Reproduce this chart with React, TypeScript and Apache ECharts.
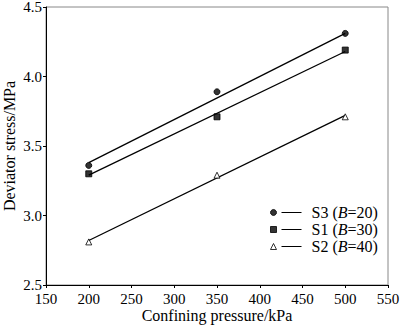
import React, { useEffect, useRef } from "react";
import * as echarts from "echarts";

const pressures = [200, 350, 500];
const s3Values = [3.36, 3.89, 4.31];
const s1Values = [3.3, 3.71, 4.19];
const s2Values = [2.81, 3.29, 3.71];
const fitX = [200, 500];
const s3Fit = [3.38, 4.31];
const s1Fit = [3.29, 4.18];
const s2Fit = [2.82, 3.72];
const seriesNames = ["S3", "S1", "S2"];
const bValues = [20, 30, 40];

const FONT = "'Liberation Serif', 'Times New Roman', serif";

export default function App() {
  const ref = useRef<HTMLDivElement>(null);
  useEffect(() => {
    document.body.style.margin = "0";
    const chart = echarts.init(ref.current!, null, { renderer: "svg" });
    const pts = (vals: number[]) => pressures.map((p, i) => [p, vals[i]]);
    const fit = (vals: number[]) => fitX.map((p, i) => [p, vals[i]]);
    const symbols = ["circle", "rect", "triangle"];
    const sizes = [6, 6, 6];
    const fills = ["#000", "#000", "#fff"];
    const allPts = [s3Values, s1Values, s2Values];
    const allFit = [s3Fit, s1Fit, s2Fit];
    const legendNames = seriesNames.map((n, i) => `${n} (B=${bValues[i]})`);
    const series: any[] = [];
    seriesNames.forEach((n, i) => {
      series.push({
        name: legendNames[i],
        type: "scatter",
        data: pts(allPts[i]),
        symbol: symbols[i],
        symbolSize: sizes[i],
        itemStyle: { color: fills[i], borderColor: "#000", borderWidth: 1 },
        z: 3,
      });
      series.push({
        name: n + "-fit",
        type: "line",
        data: fit(allFit[i]),
        showSymbol: false,
        symbol: "none",
        lineStyle: { color: "#000", width: 1.3 },
        z: 2,
      });
    });
    chart.setOption({
      animation: false,
      backgroundColor: "#fff",
      grid: {
        left: 46,
        right: 12,
        top: 7,
        bottom: 40,
        show: true,
        borderColor: "#888",
        borderWidth: 1,
        containLabel: false,
        outerBoundsMode: "none",
      },
      legend: {
        data: legendNames.map((n, i) => ({
          name: n,
          icon: symbols[i],
          itemStyle: { color: fills[i], borderColor: "#000", borderWidth: 1 },
        })),
        orient: "vertical",
        left: 270,
        top: 204,
        itemWidth: 6,
        itemHeight: 6,
        itemGap: 0,
        padding: 0,
        formatter: (name: string) => {
          const i = legendNames.indexOf(name);
          return `{ln| }{sp| }{t|${seriesNames[i]} (}{it|B}{t|=${bValues[i]})}`;
        },
        textStyle: {
          fontFamily: FONT,
          fontSize: 16,
          color: "#000",
          lineHeight: 17,
          rich: {
            ln: { width: 20, height: 1, backgroundColor: "#000", padding: 0 },
            sp: { width: 10 },
            t: { fontFamily: FONT, fontSize: 16, color: "#000", lineHeight: 17 },
            it: { fontFamily: FONT, fontSize: 16, color: "#000", fontStyle: "italic", lineHeight: 17 },
          },
        },
      },
      xAxis: {
        type: "value",
        min: 150,
        max: 550,
        interval: 50,
        name: "Confining pressure/kPa",
        nameLocation: "middle",
        nameGap: 22,
        nameMoveOverlap: false,
        nameTextStyle: { fontFamily: FONT, fontSize: 16, color: "#000", lineHeight: 16 },
        axisLine: { lineStyle: { color: "#000", width: 1 } },
        axisTick: { show: true, length: 3, inside: false, lineStyle: { color: "#000" } },
        axisLabel: { fontFamily: FONT, fontSize: 15, color: "#000", margin: 7, lineHeight: 13 },
        splitLine: { show: false },
      },
      yAxis: {
        type: "value",
        min: 2.5,
        max: 4.5,
        interval: 0.5,
        name: "Deviator stress/MPa",
        nameLocation: "middle",
        nameGap: 29,
        nameMoveOverlap: false,
        nameTextStyle: { fontFamily: FONT, fontSize: 16, color: "#000", lineHeight: 16 },
        axisLine: { lineStyle: { color: "#000", width: 1 } },
        axisTick: { show: true, length: 3, inside: false, lineStyle: { color: "#000" } },
        axisLabel: {
          fontFamily: FONT,
          fontSize: 15,
          color: "#000",
          margin: 4,
          lineHeight: 13,
          formatter: (v: number) => v.toFixed(1),
        },
        splitLine: { show: false },
      },
      series,
    });
    return () => chart.dispose();
  }, []);
  return <div ref={ref} style={{ width: 400, height: 325 }} />;
}
